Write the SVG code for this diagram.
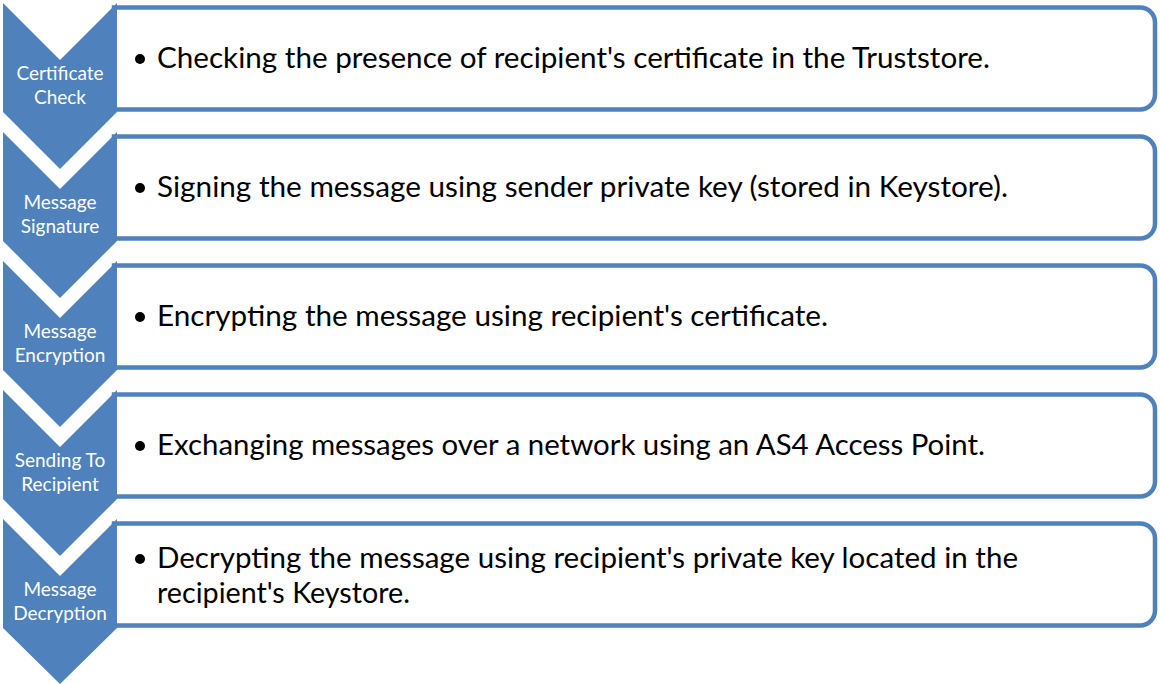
<svg xmlns="http://www.w3.org/2000/svg" width="1160" height="684" viewBox="0 0 1160 684">
<style>
.box{fill:#fff;stroke:#4F81BD;stroke-width:4.5}
.chev{fill:#4F81BD}
.lbl{font-family:Lato,"Liberation Sans",sans-serif;font-size:19px;fill:#fff;text-anchor:middle}
.txt{font-family:Lato,"Liberation Sans",sans-serif;font-size:29px;fill:#000}
</style>
<rect width="1160" height="684" fill="#fff"/>
<g id="connectors"></g>
<g id="step1">
<path class="box" d="M114,7.5 H1140 A15,15 0 0 1 1155,22.5 V94.5 A15,15 0 0 1 1140,109.5 H114 Z"/>
<path class="chev" d="M3,3 L60,60 L117,3 L117,112 L60,169 L3,112 Z"/>
<text class="lbl" x="60" y="80">Certificate</text>
<text class="lbl" x="60" y="104">Check</text>
<circle cx="140" cy="59" r="5"/>
<text class="txt" x="157" y="68" textLength="833" lengthAdjust="spacingAndGlyphs">Checking the presence of recipient's certificate in the Truststore.</text>
</g>
<g id="step2">
<path class="box" d="M114,136.5 H1140 A15,15 0 0 1 1155,151.5 V223.5 A15,15 0 0 1 1140,238.5 H114 Z"/>
<path class="chev" d="M3,132 L60,189 L117,132 L117,241 L60,298 L3,241 Z"/>
<text class="lbl" x="60" y="209">Message</text>
<text class="lbl" x="60" y="233">Signature</text>
<circle cx="140" cy="188" r="5"/>
<text class="txt" x="157" y="197" textLength="851" lengthAdjust="spacingAndGlyphs">Signing the message using sender private key (stored in Keystore).</text>
</g>
<g id="step3">
<path class="box" d="M114,265.5 H1140 A15,15 0 0 1 1155,280.5 V352.5 A15,15 0 0 1 1140,367.5 H114 Z"/>
<path class="chev" d="M3,261 L60,318 L117,261 L117,370 L60,427 L3,370 Z"/>
<text class="lbl" x="60" y="338">Message</text>
<text class="lbl" x="60" y="362">Encryption</text>
<circle cx="140" cy="317" r="5"/>
<text class="txt" x="157" y="326" textLength="671" lengthAdjust="spacingAndGlyphs">Encrypting the message using recipient's certificate.</text>
</g>
<g id="step4">
<path class="box" d="M114,394.5 H1140 A15,15 0 0 1 1155,409.5 V481.5 A15,15 0 0 1 1140,496.5 H114 Z"/>
<path class="chev" d="M3,390 L60,447 L117,390 L117,499 L60,556 L3,499 Z"/>
<text class="lbl" x="60" y="467">Sending To</text>
<text class="lbl" x="60" y="491">Recipient</text>
<circle cx="140" cy="446" r="5"/>
<text class="txt" x="157" y="455" textLength="828" lengthAdjust="spacingAndGlyphs">Exchanging messages over a network using an AS4 Access Point.</text>
</g>
<g id="step5">
<path class="box" d="M114,523.5 H1140 A15,15 0 0 1 1155,538.5 V610.5 A15,15 0 0 1 1140,625.5 H114 Z"/>
<path class="chev" d="M3,519 L60,576 L117,519 L117,628 L60,684 L3,628 Z"/>
<text class="lbl" x="60" y="596">Message</text>
<text class="lbl" x="60" y="620">Decryption</text>
<circle cx="140" cy="559" r="5"/>
<text class="txt" x="157" y="568" textLength="861" lengthAdjust="spacingAndGlyphs">Decrypting the message using recipient's private key located in the</text>
<text class="txt" x="157" y="603" textLength="253" lengthAdjust="spacingAndGlyphs">recipient's Keystore.</text>
</g>
</svg>
